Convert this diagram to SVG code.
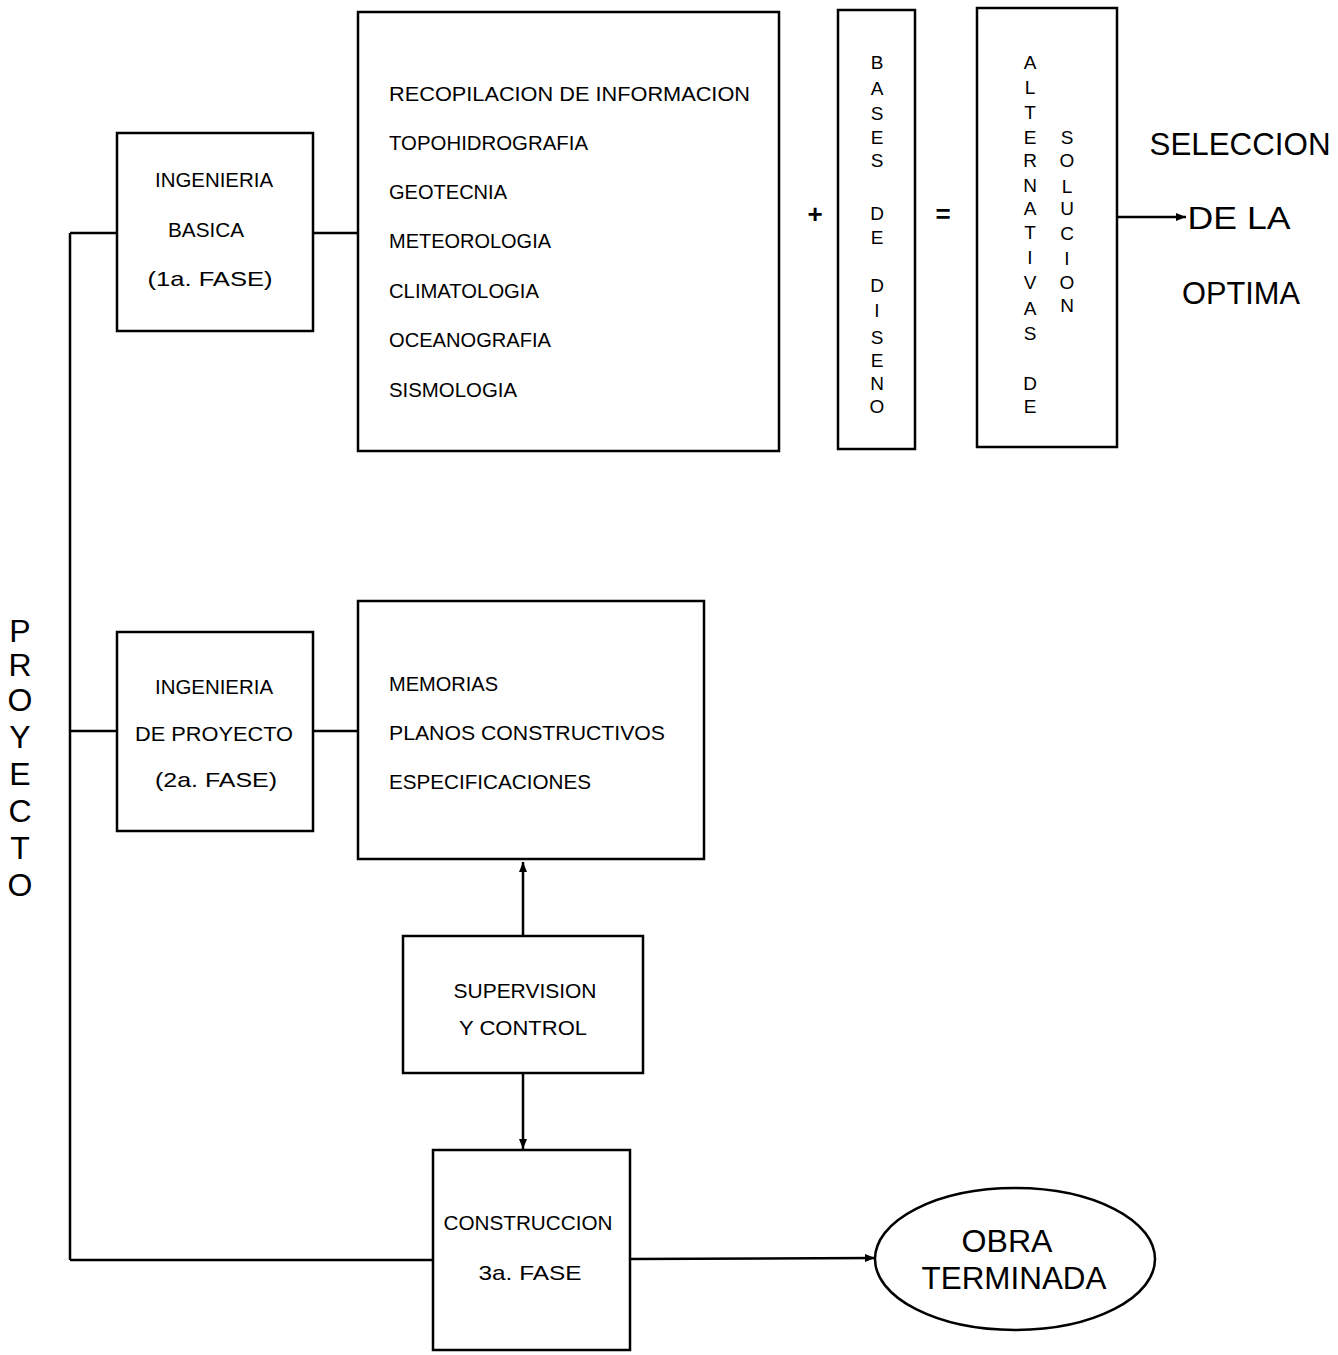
<svg xmlns="http://www.w3.org/2000/svg" width="1338" height="1355" viewBox="0 0 1338 1355">
<style>
.box{fill:none;stroke:#000;stroke-width:2.5}
.ln{fill:none;stroke:#000;stroke-width:2.5}
.t{font-family:"Liberation Sans",Arial,sans-serif;font-size:21px;fill:#000}
.tc{font-family:"Liberation Sans",Arial,sans-serif;font-size:21px;fill:#000;text-anchor:middle}
.v{font-family:"Liberation Sans",Arial,sans-serif;font-size:19px;fill:#000;text-anchor:middle}
.big{font-family:"Liberation Sans",Arial,sans-serif;font-size:32px;fill:#000;text-anchor:middle}
.op{font-family:"Liberation Sans",Arial,sans-serif;font-size:26px;font-weight:bold;fill:#000;text-anchor:middle}
</style>
<defs>
<marker id="ah" viewBox="0 0 10 10" refX="10" refY="5" markerWidth="5" markerHeight="4" orient="auto" markerUnits="strokeWidth">
<path d="M0,1 L10,5 L0,9 z" fill="#000"/>
</marker>
</defs>
<rect width="1338" height="1355" fill="#fff"/>

<g id="connectors">
<line class="ln" x1="70" y1="233" x2="70" y2="1260"/>
<line class="ln" x1="70" y1="233" x2="117" y2="233"/>
<line class="ln" x1="313" y1="233" x2="358" y2="233"/>
<line class="ln" x1="70" y1="731" x2="117" y2="731"/>
<line class="ln" x1="313" y1="731" x2="358" y2="731"/>
<line class="ln" x1="70" y1="1260" x2="433" y2="1260"/>
<line class="ln" x1="1117" y1="217" x2="1186" y2="217" marker-end="url(#ah)"/>
<line class="ln" x1="630" y1="1259" x2="875" y2="1258" marker-end="url(#ah)"/>
<line class="ln" x1="523" y1="936" x2="523" y2="862" marker-end="url(#ah)"/>
<line class="ln" x1="523" y1="1073" x2="523" y2="1149" marker-end="url(#ah)"/>
</g>

<g id="proyecto">
<text class="big" x="20" y="642" font-size="30">P</text>
<text class="big" x="20" y="676" font-size="30">R</text>
<text class="big" x="20" y="711" font-size="30">O</text>
<text class="big" x="20" y="748" font-size="30">Y</text>
<text class="big" x="20" y="785" font-size="30">E</text>
<text class="big" x="20" y="822" font-size="30">C</text>
<text class="big" x="20" y="859" font-size="30">T</text>
<text class="big" x="20" y="896" font-size="30">O</text>
</g>

<g id="ing-basica">
<rect class="box" x="117" y="133" width="196" height="198"/>
<text class="tc" x="214" y="187" textLength="118" lengthAdjust="spacingAndGlyphs">INGENIERIA</text>
<text class="tc" x="206" y="237" textLength="76" lengthAdjust="spacingAndGlyphs">BASICA</text>
<text class="tc" x="210" y="286" textLength="125" lengthAdjust="spacingAndGlyphs">(1a.  FASE)</text>
</g>

<g id="info">
<rect class="box" x="358" y="12" width="421" height="439"/>
<text class="t" x="389" y="101" textLength="361" lengthAdjust="spacingAndGlyphs">RECOPILACION  DE  INFORMACION</text>
<text class="t" x="389" y="150" textLength="199" lengthAdjust="spacingAndGlyphs">TOPOHIDROGRAFIA</text>
<text class="t" x="389" y="199" textLength="118" lengthAdjust="spacingAndGlyphs">GEOTECNIA</text>
<text class="t" x="389" y="248" textLength="162" lengthAdjust="spacingAndGlyphs">METEOROLOGIA</text>
<text class="t" x="389" y="298" textLength="150" lengthAdjust="spacingAndGlyphs">CLIMATOLOGIA</text>
<text class="t" x="389" y="347" textLength="162" lengthAdjust="spacingAndGlyphs">OCEANOGRAFIA</text>
<text class="t" x="389" y="397" textLength="128" lengthAdjust="spacingAndGlyphs">SISMOLOGIA</text>
</g>

<text class="op" x="815" y="223">+</text>

<g id="bases">
<rect class="box" x="838" y="10" width="77" height="439"/>
<text class="v" x="877" y="69">B</text>
<text class="v" x="877" y="95">A</text>
<text class="v" x="877" y="120">S</text>
<text class="v" x="877" y="144">E</text>
<text class="v" x="877" y="167">S</text>
<text class="v" x="877" y="220">D</text>
<text class="v" x="877" y="244">E</text>
<text class="v" x="877" y="292">D</text>
<text class="v" x="877" y="317">I</text>
<text class="v" x="877" y="344">S</text>
<text class="v" x="877" y="367">E</text>
<text class="v" x="877" y="390">N</text>
<text class="v" x="877" y="413">O</text>
</g>

<text class="op" x="943" y="223">=</text>

<g id="alternativas">
<rect class="box" x="977" y="8" width="140" height="439"/>
<text class="v" x="1030" y="69">A</text>
<text class="v" x="1030" y="94">L</text>
<text class="v" x="1030" y="119">T</text>
<text class="v" x="1030" y="144">E</text>
<text class="v" x="1030" y="167">R</text>
<text class="v" x="1030" y="192">N</text>
<text class="v" x="1030" y="215">A</text>
<text class="v" x="1030" y="239">T</text>
<text class="v" x="1030" y="264">I</text>
<text class="v" x="1030" y="289">V</text>
<text class="v" x="1030" y="315">A</text>
<text class="v" x="1030" y="340">S</text>
<text class="v" x="1030" y="390">D</text>
<text class="v" x="1030" y="413">E</text>
<text class="v" x="1067" y="144">S</text>
<text class="v" x="1067" y="167">O</text>
<text class="v" x="1067" y="193">L</text>
<text class="v" x="1067" y="215">U</text>
<text class="v" x="1067" y="240">C</text>
<text class="v" x="1067" y="265">I</text>
<text class="v" x="1067" y="289">O</text>
<text class="v" x="1067" y="312">N</text>
</g>

<g id="seleccion">
<text class="big" x="1240" y="155" textLength="181" lengthAdjust="spacingAndGlyphs">SELECCION</text>
<text class="big" x="1239" y="229" textLength="103" lengthAdjust="spacingAndGlyphs">DE  LA</text>
<text class="big" x="1241" y="304" textLength="118" lengthAdjust="spacingAndGlyphs">OPTIMA</text>
</g>

<g id="ing-proyecto">
<rect class="box" x="117" y="632" width="196" height="199"/>
<text class="tc" x="214" y="694" textLength="118" lengthAdjust="spacingAndGlyphs">INGENIERIA</text>
<text class="tc" x="214" y="741" textLength="158" lengthAdjust="spacingAndGlyphs">DE  PROYECTO</text>
<text class="tc" x="216" y="787" textLength="122" lengthAdjust="spacingAndGlyphs">(2a.  FASE)</text>
</g>

<g id="memorias">
<rect class="box" x="358" y="601" width="346" height="258"/>
<text class="t" x="389" y="691" textLength="109" lengthAdjust="spacingAndGlyphs">MEMORIAS</text>
<text class="t" x="389" y="740" textLength="276" lengthAdjust="spacingAndGlyphs">PLANOS  CONSTRUCTIVOS</text>
<text class="t" x="389" y="789" textLength="202" lengthAdjust="spacingAndGlyphs">ESPECIFICACIONES</text>
</g>

<g id="supervision">
<rect class="box" x="403" y="936" width="240" height="137"/>
<text class="tc" x="525" y="998" textLength="143" lengthAdjust="spacingAndGlyphs">SUPERVISION</text>
<text class="tc" x="523" y="1035" textLength="128" lengthAdjust="spacingAndGlyphs">Y  CONTROL</text>
</g>

<g id="construccion">
<rect class="box" x="433" y="1150" width="197" height="200"/>
<text class="tc" x="528" y="1230" textLength="169" lengthAdjust="spacingAndGlyphs">CONSTRUCCION</text>
<text class="tc" x="530" y="1280" textLength="103" lengthAdjust="spacingAndGlyphs">3a.  FASE</text>
</g>

<g id="obra">
<ellipse class="box" cx="1015" cy="1259" rx="140" ry="71"/>
<text class="big" x="1007" y="1252" textLength="91" lengthAdjust="spacingAndGlyphs">OBRA</text>
<text class="big" x="1014" y="1289" textLength="185" lengthAdjust="spacingAndGlyphs">TERMINADA</text>
</g>
</svg>
